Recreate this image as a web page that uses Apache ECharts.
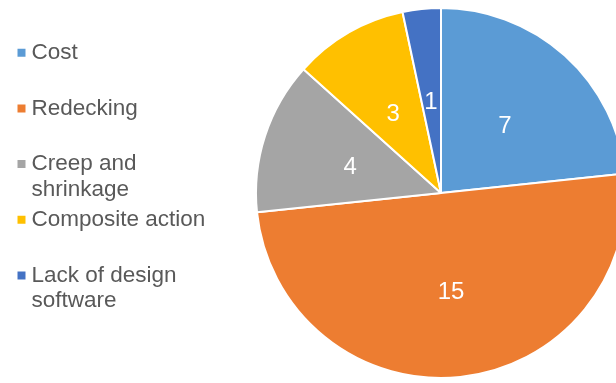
<!DOCTYPE html>
<html>
<head>
<meta charset="utf-8">
<style>
  html, body { margin: 0; padding: 0; background: #ffffff; }
  #chart { width: 616px; height: 383px; }
</style>
<script src="https://cdn.jsdelivr.net/npm/echarts@6/dist/echarts.min.js"></script>
</head>
<body>
<div id="chart"></div>
<script>
// Reasons cited, with the number of responses for each
var categories = ['Cost', 'Redecking', 'Creep and shrinkage', 'Composite action', 'Lack of design software'];
var counts = [7, 15, 4, 3, 1];
var legendLabels = ['Cost', 'Redecking', 'Creep and\nshrinkage', 'Composite action', 'Lack of design\nsoftware'];
var colors = ['#5B9BD5', '#ED7D31', '#A5A5A5', '#FFC000', '#4472C4'];

var FONT = '"Liberation Sans", Arial, sans-serif';
var LEGEND_SIZE = 22.5;
var LINE_H = 25.5;
var FIRST_CENTER = 51.2; // vertical centre of the first legend marker
var STEP = 55.7;         // spacing between legend markers
var MARK = 10;

var chart = echarts.init(document.getElementById('chart'), null, { renderer: 'canvas' });

// One legend block per entry so every marker sits on an even rhythm,
// aligned with the first line of its label.
var legends = categories.map(function (name, i) {
  var label = legendLabels[i];
  var multi = label.indexOf('\n') >= 0;
  var c = FIRST_CENTER + i * STEP;
  var half = LEGEND_SIZE / 2;
  return {
    data: [name],
    orient: 'vertical',
    left: 15.5,
    top: multi ? c - LINE_H - half : c - half,
    padding: 0,
    icon: 'rect',
    itemWidth: MARK,
    itemHeight: MARK,
    selectedMode: false,
    formatter: function () {
      // leading blank line keeps the marker level with the first text line
      return multi ? '\n' + label : label;
    },
    textStyle: {
      fontFamily: FONT,
      fontSize: LEGEND_SIZE,
      lineHeight: LINE_H,
      color: '#595959',
      padding: [0, 0, 0, 0]
    }
  };
});

chart.setOption({
  animation: false,
  color: colors,
  legend: legends,
  series: [{
    type: 'pie',
    center: [441, 193],
    radius: 185,
    startAngle: 90,
    clockwise: true,
    avoidLabelOverlap: false,
    itemStyle: { borderColor: '#ffffff', borderWidth: 2 },
    label: {
      show: true,
      position: 'inside',
      formatter: '{c}',
      color: '#ffffff',
      fontFamily: FONT,
      fontSize: 24,
      offset: [0, 4]
    },
    labelLine: { show: false },
    emphasis: { disabled: true },
    data: categories.map(function (name, i) {
      return { name: name, value: counts[i] };
    })
  }]
});
</script>
</body>
</html>
